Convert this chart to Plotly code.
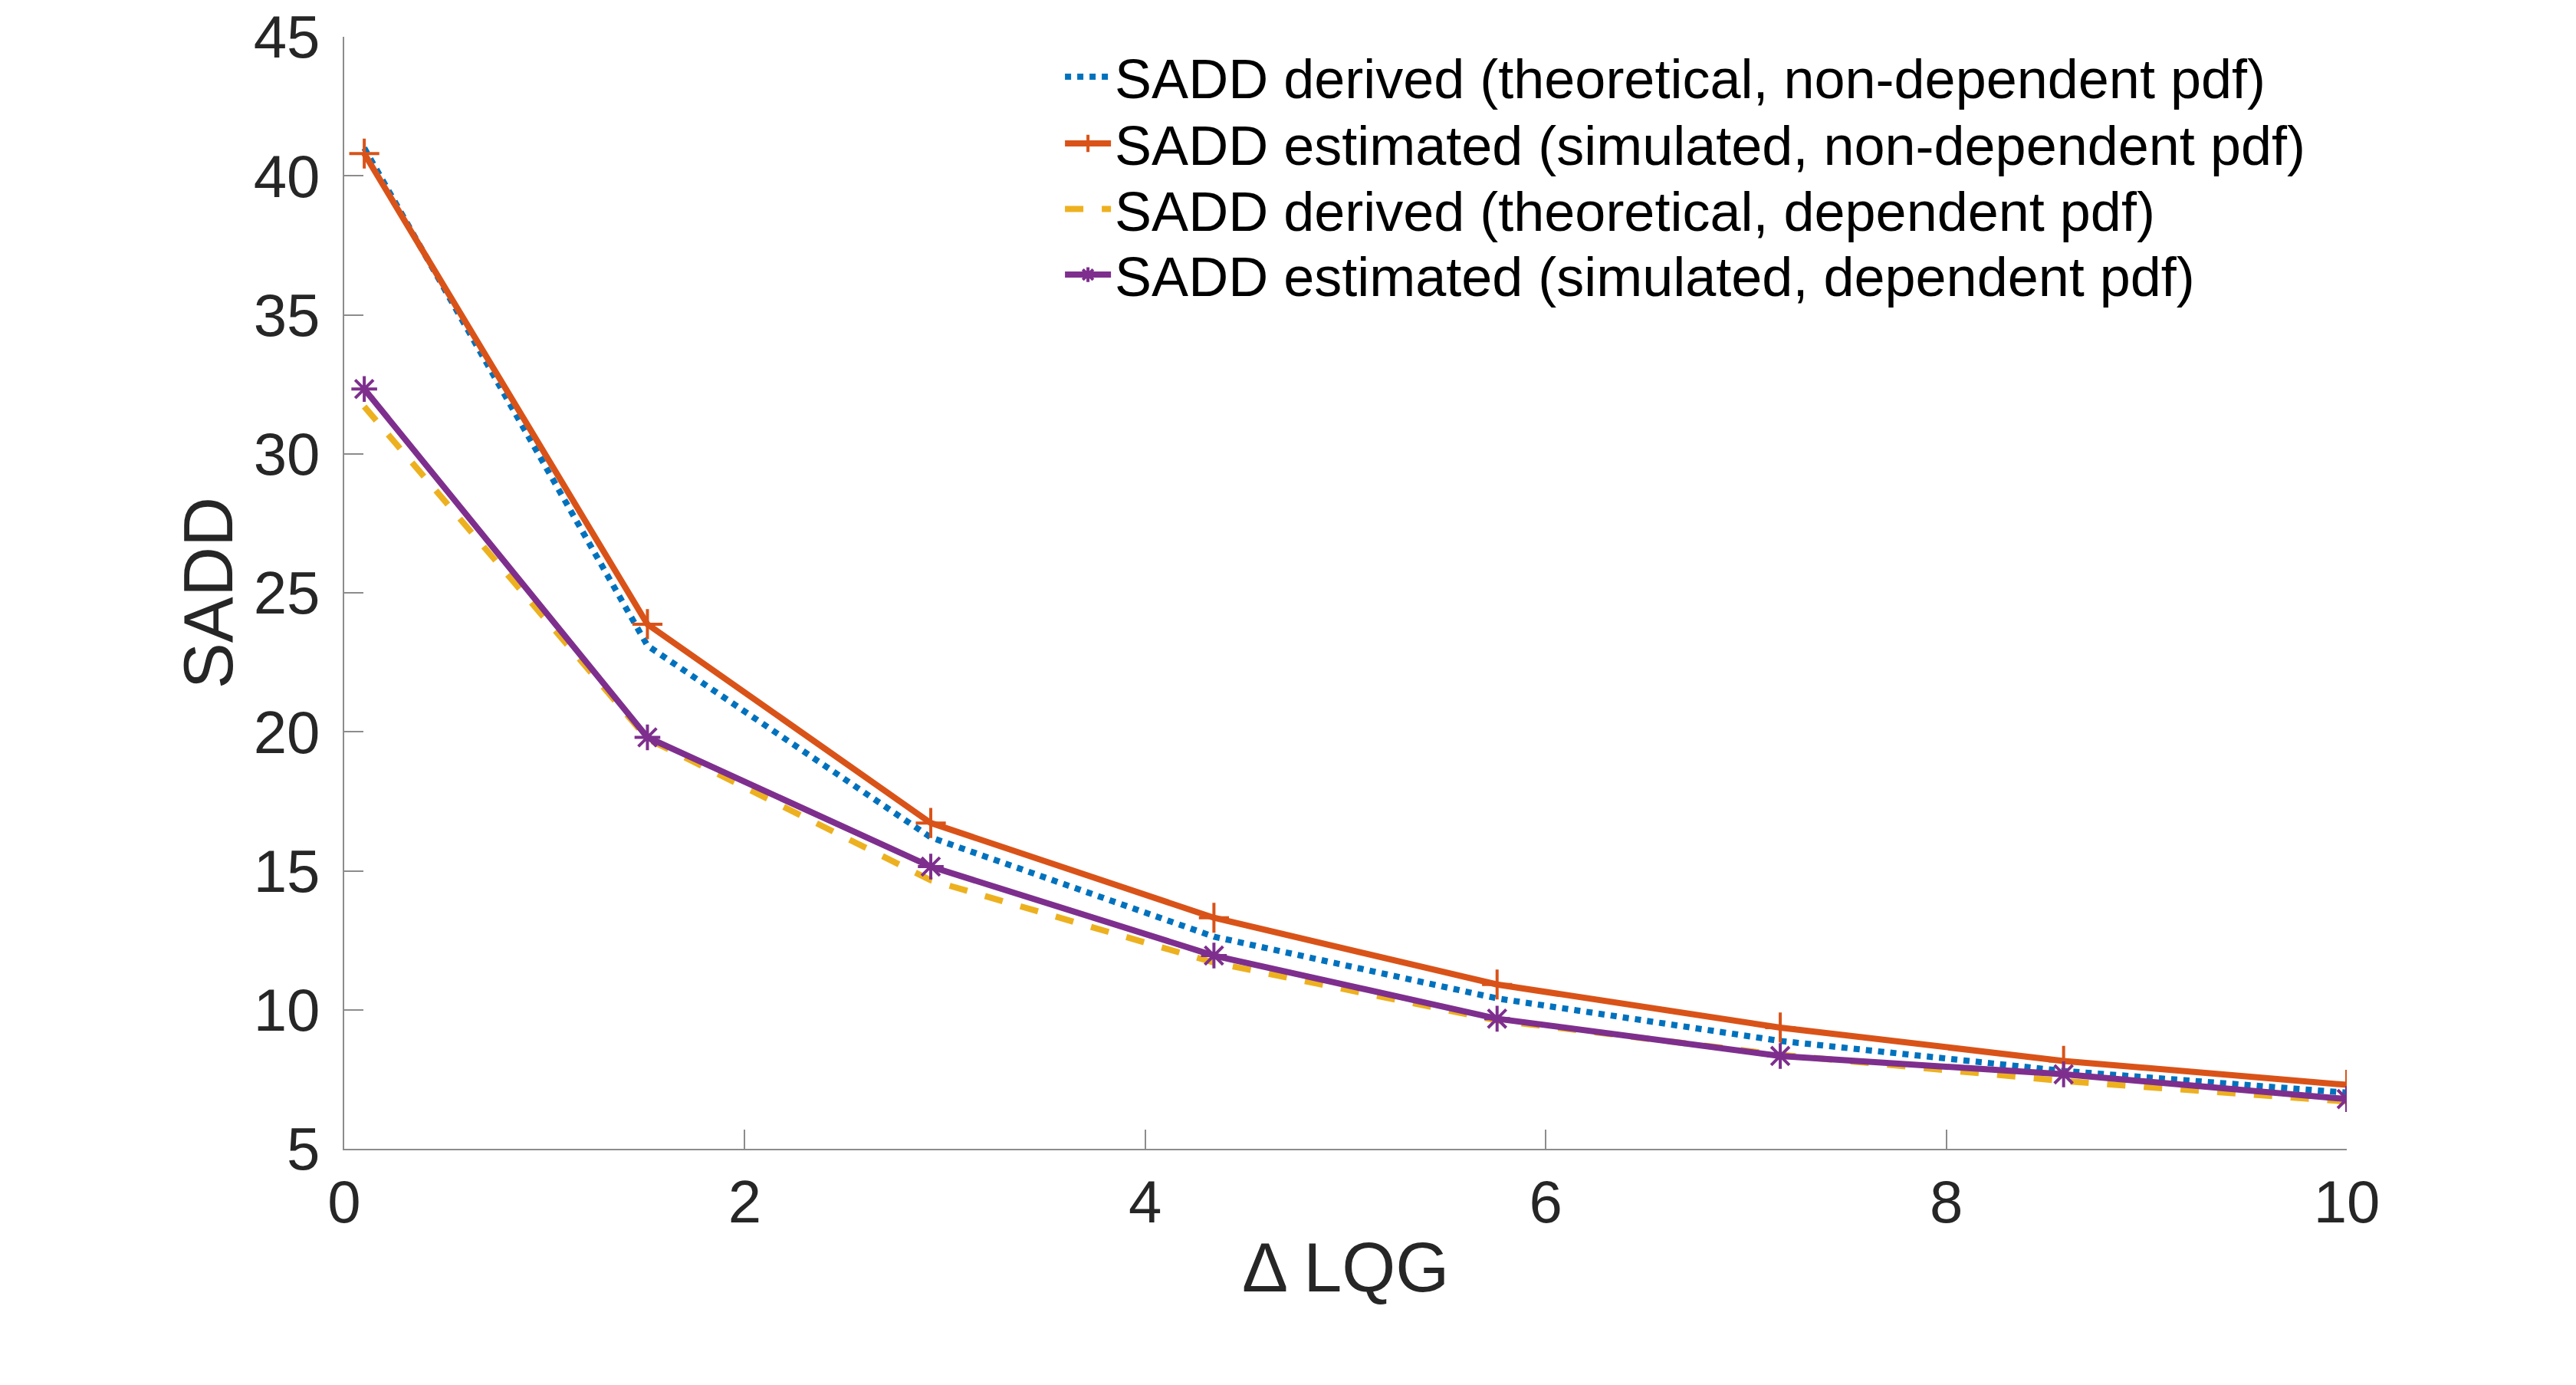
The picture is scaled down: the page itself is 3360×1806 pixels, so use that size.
import plotly.graph_objects as go

# Delta LQG values (8 evenly spaced points from 0.1 to 10)
dlqg = [0.1, 1.514, 2.929, 4.343, 5.757, 7.171, 8.586, 10.0]

sadd_derived_nondep = [41.0, 23.1, 16.2, 12.63, 10.41, 8.88, 7.8, 7.02]
sadd_estimated_nondep = [40.8, 23.87, 16.72, 13.31, 10.91, 9.36, 8.16, 7.3]
sadd_derived_dep = [31.7, 19.75, 14.66, 11.7, 9.62, 8.38, 7.44, 6.7]
sadd_estimated_dep = [32.33, 19.8, 15.15, 11.95, 9.68, 8.34, 7.68, 6.79]

names = [
    'SADD derived (theoretical, non-dependent pdf)',
    'SADD estimated (simulated, non-dependent pdf)',
    'SADD derived (theoretical, dependent pdf)',
    'SADD estimated (simulated, dependent pdf)',
]

FONT = 'Liberation Sans'
TXT = '#262626'
AX = '#8c8c8c'

fig = go.Figure()
fig.add_trace(go.Scatter(
    x=dlqg, y=sadd_derived_nondep, name=names[0], mode='lines',
    line=dict(color='#0072BD', width=8, dash='dot'),
    legend='legend', showlegend=True,
))
fig.add_trace(go.Scatter(
    x=dlqg, y=sadd_estimated_nondep, name=names[1], mode='lines+markers',
    line=dict(color='#D95319', width=8),
    marker=dict(symbol='cross-thin', size=28, color='#D95319',
                line=dict(color='#D95319', width=4)),
    legend='legend2', showlegend=True,
))
fig.add_trace(go.Scatter(
    x=dlqg, y=sadd_derived_dep, name=names[2], mode='lines',
    line=dict(color='#EDB120', width=8, dash='dash'),
    legend='legend3', showlegend=True,
))
fig.add_trace(go.Scatter(
    x=dlqg, y=sadd_estimated_dep, name=names[3], mode='lines+markers',
    line=dict(color='#7E2F8E', width=8),
    marker=dict(symbol='asterisk-open', size=28, color='#7E2F8E',
                line=dict(color='#7E2F8E', width=4)),
    legend='legend4', showlegend=True,
))

# one legend per row so the row spacing matches the original
leg_rows = [0.964, 0.904, 0.845, 0.786]


def leg(y):
    return dict(
        x=0.358, y=y, xanchor='left', yanchor='middle',
        font=dict(size=72, family=FONT, color='black'),
        bgcolor='rgba(0,0,0,0)', itemwidth=60,
    )


fig.update_layout(
    width=3360, height=1806,
    margin=dict(l=441, r=307, t=40, b=316),
    plot_bgcolor='white', paper_bgcolor='white',
    font=dict(family=FONT, color=TXT),
    showlegend=True,
    legend=leg(leg_rows[0]),
    legend2=leg(leg_rows[1]),
    legend3=leg(leg_rows[2]),
    legend4=leg(leg_rows[3]),
    annotations=[
        dict(text='SADD', xref='paper', yref='paper', x=-0.0677, y=0.5,
             xanchor='center', yanchor='middle', textangle=-90, showarrow=False,
             font=dict(size=90, family=FONT, color=TXT)),
        dict(text='Δ LQG', xref='paper', yref='paper', x=0.5, y=-0.107,
             xanchor='center', yanchor='middle', showarrow=False,
             font=dict(size=90, family=FONT, color=TXT)),
    ],
)
fig.update_xaxes(
    range=[0, 10], tickvals=[0, 2, 4, 6, 8, 10], automargin=False,
    showline=True, linecolor=AX, linewidth=2,
    ticks='inside', ticklen=25, tickcolor=AX, tickwidth=2,
    showgrid=False, zeroline=False, ticklabelstandoff=0,
    ticklabeloverflow='allow',
    tickfont=dict(size=78, family=FONT, color=TXT),
)
fig.update_yaxes(
    range=[5, 45], tickvals=[5, 10, 15, 20, 25, 30, 35, 40, 45], automargin=False,
    showline=True, linecolor=AX, linewidth=2,
    ticks='inside', ticklen=25, tickcolor=AX, tickwidth=2,
    showgrid=False, zeroline=False, ticklabelstandoff=14,
    ticklabeloverflow='allow',
    tickfont=dict(size=78, family=FONT, color=TXT),
)

fig.write_html("out.html")
